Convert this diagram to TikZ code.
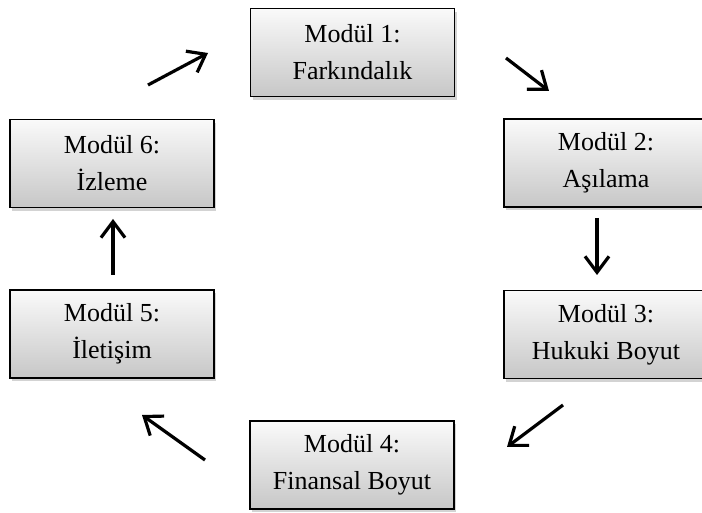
\documentclass[tikz,border=0pt]{standalone}
\usepackage{fontspec}
\setmainfont{Liberation Serif}
\usetikzlibrary{arrows.meta,shadows}

\tikzset{
  modul/.style={draw=black, line width=0.8pt, minimum width=102pt, minimum height=44pt,
    align=center, font=\fontsize{13}{18.5}\selectfont,
    top color=black!2, bottom color=black!22,
    drop shadow={shadow xshift=1.2pt, shadow yshift=-1.6pt, opacity=0.35}},
  ok/.style={line width=1.6pt, -{Straight Barb[length=8pt,width=12pt,line width=1.6pt]}}
}

\begin{document}
\begin{tikzpicture}[x=0.5pt, y=-0.5pt]
\useasboundingbox (0,0) rectangle (702,513);

\node (M1) at (352.5,52.5) [modul] {Modül 1:\\Farkındalık};
\node (M2) at (606,163) [modul] {Modül 2:\\Aşılama};
\node (M3) at (606,334.5) [modul] {Modül 3:\\Hukuki Boyut};
\node (M4) at (352,465) [modul] {Modül 4:\\Finansal Boyut};
\node (M5) at (112,334) [modul] {Modül 5:\\İletişim};
\node (M6) at (112,163.5) [modul] {Modül 6:\\İzleme};

% arrows sit in the gaps between the boxes
\coordinate (A1s) at (148,85);  \coordinate (A1e) at (208,53);
\coordinate (A2s) at (506,58);  \coordinate (A2e) at (549,91);
\coordinate (A3s) at (597,218); \coordinate (A3e) at (597,275);
\coordinate (A4s) at (563,405); \coordinate (A4e) at (507,447);
\coordinate (A5s) at (205,460); \coordinate (A5e) at (142,415);
\coordinate (A6s) at (113,275); \coordinate (A6e) at (113,219);

\draw [ok] (A1s) -- (A1e);
\draw [ok] (A2s) -- (A2e);
\draw [ok] (A3s) -- (A3e);
\draw [ok] (A4s) -- (A4e);
\draw [ok] (A5s) -- (A5e);
\draw [ok] (A6s) -- (A6e);
\end{tikzpicture}
\end{document}
